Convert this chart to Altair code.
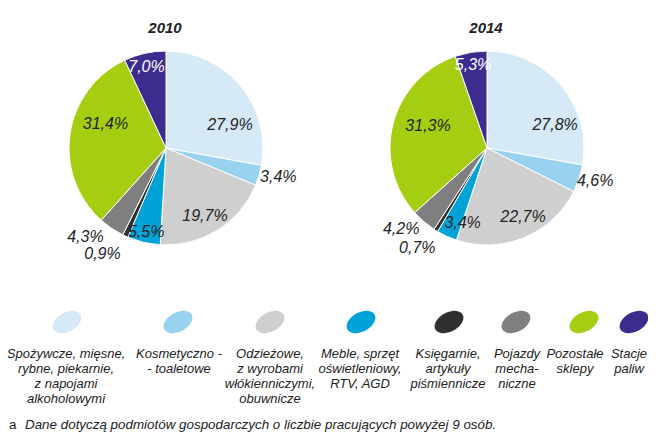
import altair as alt
import pandas as pd
import numpy as np

# ---------------- data ----------------
years = ["2010", "2014"]
categories = ["Spożywcze", "Kosmetyczno", "Odzieżowe", "Meble", "Księgarnie",
              "Pojazdy", "Pozostałe", "Stacje paliw"]
legend_labels = [
    ["Spożywcze, mięsne,", "rybne, piekarnie,", "z napojami", "alkoholowymi"],
    ["Kosmetyczno -", "- toaletowe"],
    ["Odzieżowe,", "z wyrobami", "włókienniczymi,", "obuwnicze"],
    ["Meble, sprzęt", "oświetleniowy,", "RTV, AGD"],
    ["Księgarnie,", "artykuły", "piśmiennicze"],
    ["Pojazdy", "mecha-", "niczne"],
    ["Pozostałe", "sklepy"],
    ["Stacje", "paliw"],
]
values_2010 = [27.9, 3.4, 19.7, 5.5, 0.9, 4.3, 31.4, 7.0]
values_2014 = [27.8, 4.6, 22.7, 3.4, 0.7, 4.2, 31.3, 5.3]
footnote_mark = "a"
footnote = "Dane dotyczą podmiotów gospodarczych o liczbie pracujących powyżej 9 osób."

# ---------------- style ----------------
colors = ["#D5E9F7", "#98D2EE", "#CFCFCF", "#00A3D8", "#303030",
          "#7F7F7F", "#A5CE12", "#3B2C8E"]
label_colors = ["#222222"] * 7 + ["#FFFFFF"]
FONT = "Liberation Sans"
centers = {"2010": (158, 140), "2014": (479, 140)}
R = 97
label_r = {"2010": [68, 116, 78, 86, 124, 120, 65, 83],
           "2014": [72, 113, 78, 79, 122, 118, 63, 84]}
label_dth = {"2010": [20, -2, 2, 0, 6, 8, 13, -1],
             "2014": [21, -1.5, -5, -6.5, 3, 6, 6, 0]}
legend_sym_x = [59, 170, 262, 353, 441, 508, 576, 626]
legend_txt_x = [58, 171, 262, 352, 440, 509, 567, 621]
legend_sym_y = 314
legend_text_y = 340

# ellipse symbol path (rotated)
phi = np.deg2rad(28)
t = np.linspace(0, 2 * np.pi, 40, endpoint=False)
ex = np.cos(t) * np.cos(phi) - 0.62 * np.sin(t) * np.sin(phi)
ey = -(np.cos(t) * np.sin(phi) + 0.62 * np.sin(t) * np.cos(phi))
ellipse = "M" + " L".join(f"{a:.3f},{b:.3f}" for a, b in zip(ex, ey)) + " Z"

# ---------------- tables ----------------
rows = []
for y, vals in zip(years, [values_2010, values_2014]):
    for i, (c, v) in enumerate(zip(categories, vals)):
        rows.append({
            "year": y, "idx": i, "cat": c, "value": v,
            "lab": f"{v:.1f}".replace(".", ",") + "%",
            "lr": label_r[y][i], "dth": label_dth[y][i], "tc": label_colors[i],
        })
df = pd.DataFrame(rows)

leg = pd.DataFrame({
    "cat": categories,
    "text": ["\n".join(l) for l in legend_labels],
    "sx": legend_sym_x,
    "tx": legend_txt_x,
})

color_scale = alt.Scale(domain=categories, range=colors)

layers = []
for y in years:
    cx, cy = centers[y]
    base = alt.Chart(df).transform_filter(alt.datum.year == y)
    arcs = base.mark_arc(outerRadius=R, stroke="white", strokeWidth=1).encode(
        theta=alt.Theta("value:Q", stack=True),
        order=alt.Order("idx:Q"),
        color=alt.Color("cat:N", scale=color_scale, legend=None),
        x=alt.value(cx), y=alt.value(cy),
    )
    labels = base.transform_joinaggregate(total="sum(value)").transform_window(
        cum="sum(value)", sort=[alt.SortField("idx")], frame=[None, 0]
    ).transform_calculate(
        ang="((datum.cum - datum.value/2)/datum.total)*2*PI + datum.dth*PI/180"
    ).mark_text(font=FONT, fontSize=16, fontStyle="italic",
                align="center", baseline="middle").encode(
        theta=alt.Theta("ang:Q", scale=None, stack=None),
        radius=alt.Radius("lr:Q", scale=None),
        text="lab:N",
        color=alt.Color("tc:N", scale=None),
        x=alt.value(cx), y=alt.value(cy),
    )
    title = alt.Chart(pd.DataFrame({"t": [y]})).mark_text(
        font=FONT, fontSize=15, fontWeight="bold", fontStyle="italic",
        color="#222222", align="center", baseline="middle"
    ).encode(text="t:N", x=alt.value(cx - 1), y=alt.value(20))
    layers += [arcs, labels, title]

leg_sym = alt.Chart(leg).mark_point(shape=ellipse, size=960, filled=True, opacity=1,
                                    strokeWidth=0).encode(
    x=alt.X("sx:Q", scale=None),
    y=alt.value(legend_sym_y),
    color=alt.Color("cat:N", scale=color_scale, legend=None),
)
leg_txt = alt.Chart(leg).mark_text(font=FONT, fontSize=13, fontStyle="italic",
                                   color="#222222", align="center", baseline="top",
                                   lineBreak="\n", lineHeight=15).encode(
    x=alt.X("tx:Q", scale=None),
    y=alt.value(legend_text_y),
    text="text:N",
)
foot_mark = alt.Chart(pd.DataFrame({"t": [footnote_mark]})).mark_text(
    font=FONT, fontSize=13.4, color="#222222", align="left", baseline="middle"
).encode(text="t:N", x=alt.value(1), y=alt.value(417))
foot = alt.Chart(pd.DataFrame({"t": [footnote]})).mark_text(
    font=FONT, fontSize=13.4, fontStyle="italic", color="#222222",
    align="left", baseline="middle"
).encode(text="t:N", x=alt.value(17), y=alt.value(417))

chart = alt.layer(*layers, leg_sym, leg_txt, foot_mark, foot).resolve_scale(
    theta="independent"
).properties(
    width=640, height=427, padding=0, autosize=alt.AutoSizeParams(type="none")
).configure_view(strokeWidth=0)

chart.save("out.html", embed_options={"renderer": "svg", "actions": False})
